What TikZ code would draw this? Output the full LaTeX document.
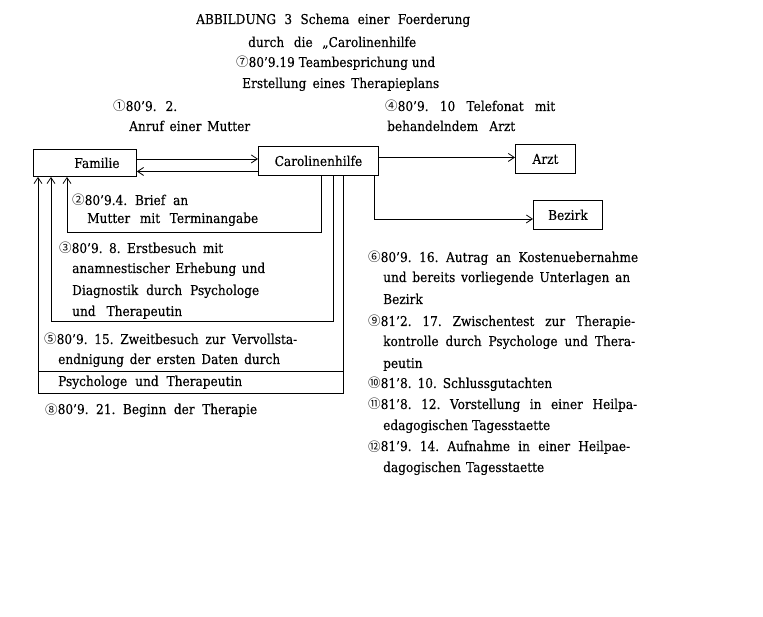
\documentclass[tikz,border=0pt]{standalone}
\usepackage{fontspec}
\usepackage{graphicx}
\setmainfont{DejaVu Serif}[FakeStretch=0.9,FakeBold=0.2]
\newfontfamily\cjkf{Noto Sans CJK SC}
\usetikzlibrary{arrows.meta}
\newlength\natw
\newcommand\fitl[2]{\settowidth\natw{#2}\ifdim\natw<#1\relax\makebox[#1][s]{#2}\else\resizebox{#1}{\height}{#2}\fi}
\newcommand\circn[1]{{\cjkf\fontsize{12.5}{14}\selectfont #1}}
\newcommand\fsz{\fontsize{13.5}{16}\selectfont\frenchspacing}
\newcommand\tline[5]{\node[txt] (#1) at (#2,#3) {\fitl{#4pt}{#5}};}
\newcommand\tword[4]{\node[txt] (#1) at (#2,#3) {#4};}
\tikzset{
  box/.style={draw, line width=0.9pt, inner sep=0pt, anchor=north west, font=\fsz},
  txt/.style={anchor=base west, inner sep=0pt, font=\fsz},
  con/.style={line width=0.8pt},
  arr/.style={line width=0.8pt, -{Straight Barb[length=6pt,width=8pt]}}
}
\begin{document}
\begin{tikzpicture}[x=1pt,y=-1pt]
\path[use as bounding box, fill=white] (0,0) rectangle (763,617);
% boxes
\node[box, minimum width=103pt, minimum height=27pt] (fam) at (33,149) {\hspace*{24pt}Familie};
\node[box, minimum width=120pt, minimum height=29pt] (caro) at (258,146) {Carolinenhilfe};
\node[box, minimum width=60pt, minimum height=29pt] (arzt) at (515,144) {Arzt};
\node[box, minimum width=69pt, minimum height=29pt] (bezirk) at (533,200) {Bezirk};
% helper coordinates
\coordinate (yA) at (0,232);
\coordinate (yB) at (0,321);
\coordinate (yC) at (0,393);
\coordinate (ySep) at (0,371);
\coordinate (fa) at ([xshift=34pt]fam.south west);
\coordinate (fb) at ([xshift=18pt]fam.south west);
\coordinate (fc) at ([xshift=5pt]fam.south west);
\coordinate (ca) at ([xshift=63pt]caro.south west);
\coordinate (cb) at ([xshift=75pt]caro.south west);
\coordinate (cc) at ([xshift=85pt]caro.south west);
% connectors
\draw[arr] ([yshift=4pt]fam.east) -- ([yshift=4pt]fam.east -| caro.west);
\draw[arr] ([yshift=-8.5pt]fam.east -| caro.west) -- ([yshift=-8.5pt]fam.east);
\draw[arr] ([yshift=3.5pt]caro.east) -- ([yshift=3.5pt]caro.east -| arzt.west);
\draw[arr] ([xshift=-5pt]caro.south east) |- ([yshift=-4pt]bezirk.west);
\draw[arr] (ca) |- (fa |- yA) -- (fa);
\draw[arr] (cb) |- (fb |- yB) -- (fb);
\draw[arr] (cc) |- (fc |- yC) -- (fc);
\draw[con] (fc |- ySep) -- (cc |- ySep);
% title texts
\tline{t1}{196}{24}{274}{ABBILDUNG 3 Schema einer Foerderung}
\tline{t2}{248}{47}{168}{durch die „Carolinenhilfe}
\tline{t3}{236}{67}{199}{\circn{⑦}80’9.19 Teambesprichung und}
\tline{t4}{242}{88}{197}{Erstellung eines Therapieplans}
\tline{t5}{113}{111}{64}{\circn{①}80’9. 2.}
\tline{t6}{129}{131}{121}{Anruf einer Mutter}
\tline{t7}{385}{111}{170}{\circn{④}80’9. 10 Telefonat mit}
\tline{t8}{387}{131}{128}{behandelndem Arzt}
% left texts
\tline{l1}{72}{205}{116}{\circn{②}80’9.4. Brief an}
\tline{l2}{87}{223}{171}{Mutter mit Terminangabe}
\tline{l3}{59}{253}{164}{\circn{③}80’9. 8. Erstbesuch mit}
\tline{l4}{72}{273}{193}{anamnestischer Erhebung und}
\tline{l5}{72}{295}{187}{Diagnostik durch Psychologe}
\tline{l6}{72}{316}{110}{und Therapeutin}
\tline{l7}{44}{344}{253}{\circn{⑤}80’9. 15. Zweitbesuch zur Vervollsta-}
\tline{l8}{58}{364}{222}{endnigung der ersten Daten durch}
\tline{l9}{58}{386}{184}{Psychologe und Therapeutin}
\tline{l10}{45}{414}{212}{\circn{⑧}80’9. 21. Beginn der Therapie}
% right texts
\tline{r1}{368}{262}{270}{\circn{⑥}80’9. 16. Autrag an Kostenuebernahme}
\tline{r2}{383}{282}{247}{und bereits vorliegende Unterlagen an}
\tword{r3}{383}{304}{Bezirk}
\tline{r4}{368}{326}{267}{\circn{⑨}81’2. 17. Zwischentest zur Therapie-}
\tline{r5}{383}{346}{252}{kontrolle durch Psychologe und Thera-}
\tword{r6}{383}{368}{peutin}
\tline{r7}{368}{388}{184}{\circn{⑩}81’8. 10. Schlussgutachten}
\tline{r8}{368}{409}{269}{\circn{⑪}81’8. 12. Vorstellung in einer Heilpa-}
\tline{r9}{383}{430}{167}{edagogischen Tagesstaette}
\tline{r10}{368}{451}{262}{\circn{⑫}81’9. 14. Aufnahme in einer Heilpae-}
\tline{r11}{383}{472}{161}{dagogischen Tagesstaette}
\end{tikzpicture}
\end{document}
